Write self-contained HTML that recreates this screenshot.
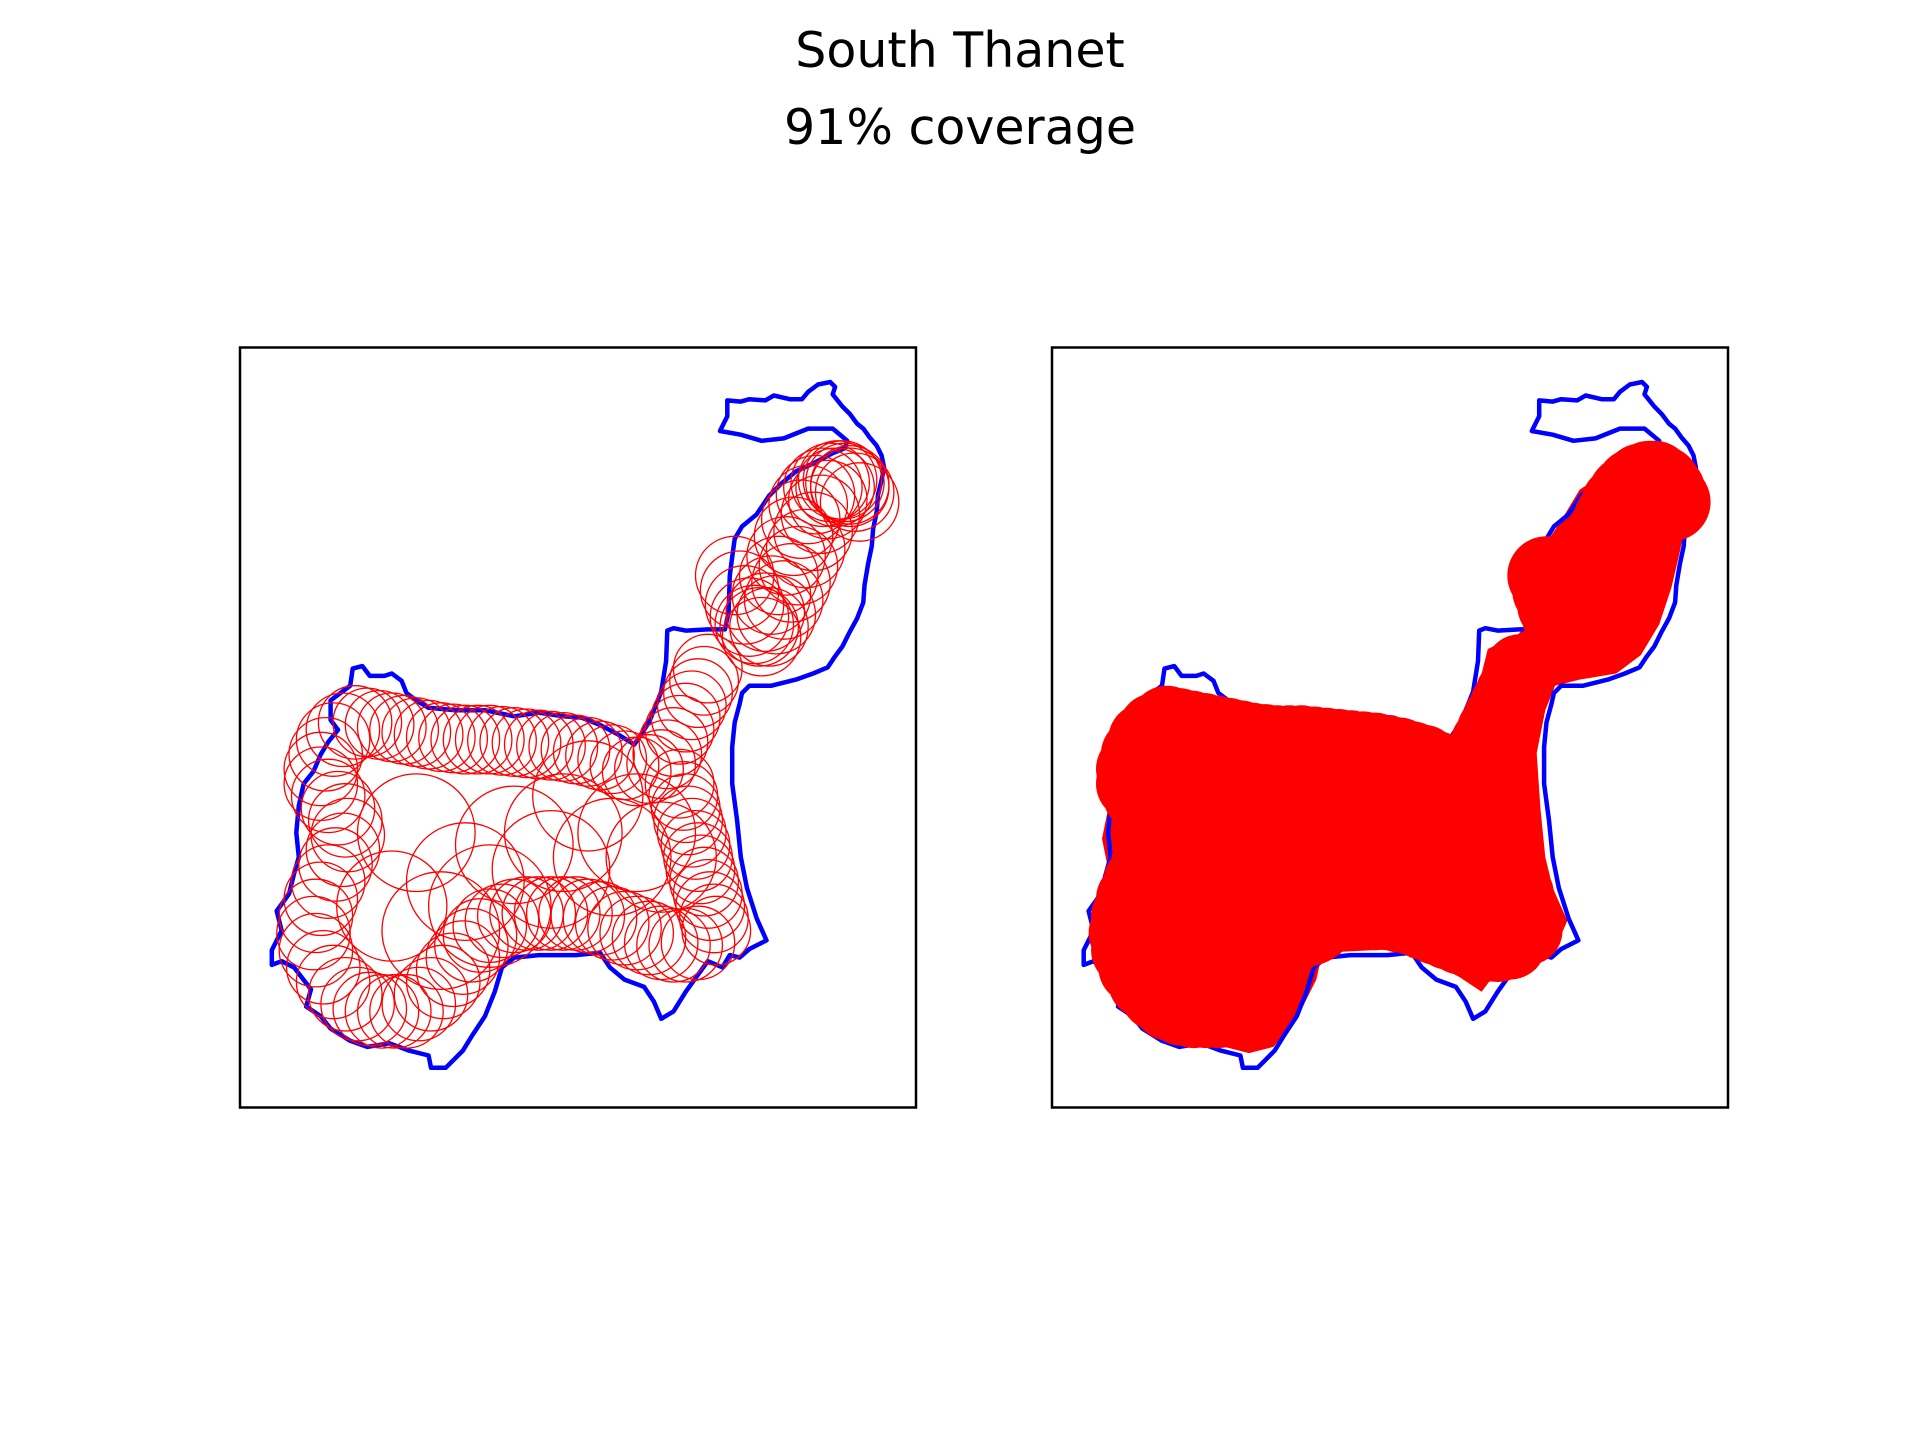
<!DOCTYPE html>
<html><head><meta charset="utf-8"><style>
html,body{margin:0;padding:0;background:#fff}
svg{display:block}
text{font-family:"DejaVu Sans","Liberation Sans",sans-serif}
</style></head><body>
<svg id="fig" width="1920" height="1440" viewBox="0 0 1920 1440" xmlns="http://www.w3.org/2000/svg">
<rect width="1920" height="1440" fill="#fff"/>
<text x="960" y="67" font-size="49" text-anchor="middle">South Thanet</text>
<text x="960" y="144" font-size="49" text-anchor="middle">91% coverage</text>
<g id="left"></g>
<g id="right"></g>
<rect x="240" y="347.5" width="676" height="760" fill="none" stroke="#000" stroke-width="2.5"/>
<rect x="1052" y="347.5" width="676" height="760" fill="none" stroke="#000" stroke-width="2.5"/>
</svg>
<script>
// boundary polygon (map units)
const boundaryX=[594,605,612,625,632,645,655,660,668,678,682,680,688,694,700,705,710,716,720,722,720,717,716,713,712,709,706,705,700,694,688,682,676,664,650,630,612,606,604,600,598,598,602,605,610,618,626,612,604,596,590,578,570,560,550,540,534,526,510,498,490,470,440,420,410,404,396,386,378,364,352,350,334,318,300,286,270,262,250,254,240,230,222,222,230,226,236,240,244,242,244,248,256,262,268,276,270,270,278,286,288,296,302,314,320,328,332,340,350,372,396,420,440,460,475,490,505,518,530,540,544,545,550,560,578,592,595,596,598,600,606,618,628,638,650,665,680,690,692,680,660,640,622,605,588,594,594];
const boundaryY=[327,328,326,327,323,326,326,320,314,312,316,322,332,338,346,350,357,364,372,382,392,404,418,432,446,460,478,492,505,516,528,536,545,550,555,560,560,566,575,590,610,640,670,700,725,750,768,775,782,780,790,785,796,810,826,832,818,806,800,790,778,780,780,782,790,810,830,845,858,872,872,862,858,852,855,850,840,830,822,808,790,785,788,776,760,744,730,714,700,680,658,640,630,616,606,596,588,572,566,560,546,544,552,552,550,556,566,572,578,580,580,585,582,585,586,592,600,608,590,565,540,515,513,515,514,514,500,470,455,440,430,420,405,395,385,378,370,366,360,350,350,358,360,355,352,340,327];
// filled coverage area outline (map units)
const coverX=[292,327,367,417,457,487,512,532,542,552,577,587,595,599,612,627,657,682,707,719,715,709,702,692,677,657,627,607,599,592,595,599,605,617,607,582,562,547,532,517,497,477,417,412,397,377,357,337,312,287,272,257,242,227,232,242,237,242,252,267,282,292];
const coverY=[570,572,576,580,582,590,605,600,570,530,518,505,470,445,425,400,380,365,370,390,420,450,480,510,535,550,555,560,580,615,660,700,725,752,775,780,790,810,800,790,780,775,778,800,830,855,860,855,850,848,830,810,790,765,740,710,685,660,630,610,590,570];
// circle centres (map units), grouped by chain
const circleX=[
300,310,320,330,340,350,360,370,380,390,400,410,420,430,440,450,460,470,480,490,500,510,520,530,
540,545,550,555,560,565,570,575,578,
555,558,560,562,565,568,570,572,575,578,580,583,585,
570,560,550,540,530,520,510,500,490,480,
470,460,450,440,430,420,410,400,392,385,
378,370,362,352,342,332,322,312,302,292,
282,272,264,258,256,258,262,268,274,280,
284,282,276,268,262,262,266,272,280,290,
600,604,608,612,616,620,625,630,636,642,648,654,660,666,672,678,684,690,694,
622,628,634,640,646,652,658,664,670,676,682,688,694,698,702,
340,380,420,460,500,520,360,450,320,480,400,540];
const circleY=[
590,592,594,596,598,600,602,603,604,604,604,605,606,607,608,609,610,612,614,617,620,625,630,628,
624,616,606,596,586,576,566,556,546,
640,650,660,670,680,690,700,710,720,730,740,750,760,
770,772,772,770,766,762,758,754,750,748,
746,746,746,746,746,748,752,756,764,772,
782,792,802,812,820,826,826,826,824,820,
812,802,790,776,762,748,734,720,706,694,
682,670,660,650,640,628,616,604,596,590,
470,482,494,504,510,512,500,486,470,454,438,424,412,404,398,394,392,394,398,
520,512,502,490,476,462,448,434,420,408,398,392,396,402,410,
680,720,690,680,700,680,760,710,740,650,740,700];
const circleR=[
28,28,28,28,28,28,28,28,28,28,28,28,28,28,28,28,28,28,28,28,28,28,28,28,
28,28,28,28,28,28,28,28,28,
28,28,28,28,28,28,28,28,28,28,28,28,28,
30,30,30,30,30,30,30,30,30,30,
30,30,30,30,30,30,30,30,30,30,
30,30,30,30,30,30,30,30,30,30,
30,30,30,30,30,30,30,30,30,30,
30,30,30,30,30,30,30,30,30,30,
32,32,32,32,32,32,32,32,32,32,32,32,32,32,32,32,32,32,32,
32,32,32,32,32,32,32,32,32,32,32,32,32,32,32,
48,48,48,48,48,48,48,48,45,45,50,45];
const S=1920/1568, OFF=[0,663];
function sx(v,p){return (v+OFF[p])*S;}
function sy(v){return v*S;}
const NS='http://www.w3.org/2000/svg';
['left','right'].forEach((id,p)=>{
  const g=document.getElementById(id);
  if(p===1){
    const cov=document.createElementNS(NS,'polygon');
    
    
    cov.setAttribute('points',coverX.map((x,i)=>sx(x,p).toFixed(1)+','+sy(coverY[i]).toFixed(1)).join(' '));
    cov.setAttribute('fill','#ff0000');
    g.appendChild(cov);
  }
  const poly=document.createElementNS(NS,'polygon');
  
  
  poly.setAttribute('points',boundaryX.map((x,i)=>sx(x,p).toFixed(1)+','+sy(boundaryY[i]).toFixed(1)).join(' '));
  poly.setAttribute('fill','none');poly.setAttribute('stroke','#0000ff');poly.setAttribute('stroke-width','4.5');poly.setAttribute('stroke-linejoin','round');
  g.appendChild(poly);
  const n=Math.min(circleX.length,circleY.length,circleR.length);
  for(let i=0;i<n;i++){
    const c=document.createElementNS(NS,'circle');
    
    
    c.setAttribute('cx',sx(circleX[i],p).toFixed(1));c.setAttribute('cy',sy(circleY[i]).toFixed(1));c.setAttribute('r',(circleR[i]*S).toFixed(1));
    if(p===0){c.setAttribute('fill','none');c.setAttribute('stroke','#ff0000');c.setAttribute('stroke-width','1.3');}
    else{c.setAttribute('fill','#ff0000');}
    g.appendChild(c);
  }
});
</script>
</body></html>
